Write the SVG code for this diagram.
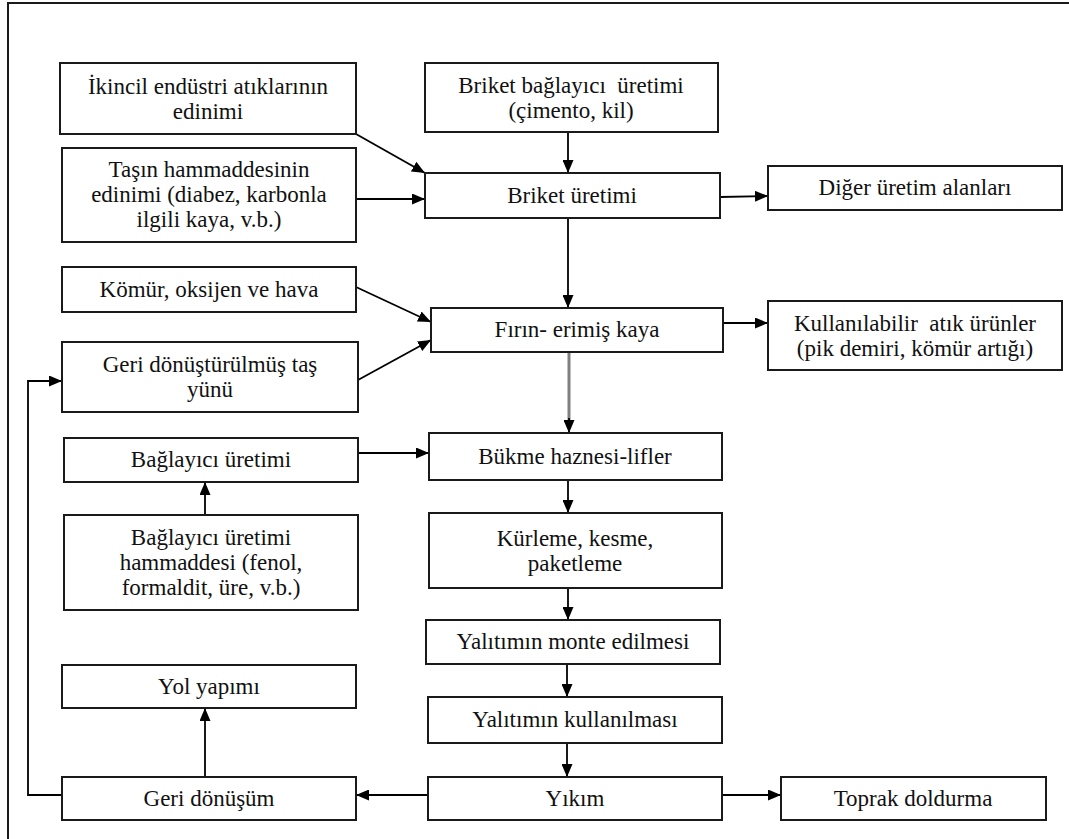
<svg xmlns="http://www.w3.org/2000/svg" width="1069" height="839" viewBox="0 0 1069 839">
  <defs>
    <marker id="arrow" markerUnits="userSpaceOnUse" markerWidth="13" markerHeight="11" refX="13" refY="5.5" orient="auto">
      <path d="M0,0 L13,5.5 L0,11 z" fill="#000"/>
    </marker>
    <style>
      .box { fill: #fff; stroke: #1a1a1a; stroke-width: 2; }
      .lbl { font-size: 23px; fill: #111; text-anchor: middle; }
      .pre { white-space: pre; }
      .conn { fill: none; stroke: #000; stroke-width: 1.8; }
      .conn-grey { fill: none; stroke: #808080; stroke-width: 3; }
    </style>
  </defs>

  <rect width="1069" height="839" fill="#fff"/>
  <!-- outer frame (runs off the right and bottom edges) -->
  <path d="M8,839 V3 H1069" fill="none" stroke="#1a1a1a" stroke-width="2"/>

  <g id="connectors">
    <line class="conn" x1="356" y1="134" x2="425" y2="173" marker-end="url(#arrow)"/>
    <line class="conn" x1="356" y1="199" x2="425" y2="199" marker-end="url(#arrow)"/>
    <line class="conn" x1="568" y1="132" x2="568" y2="173" marker-end="url(#arrow)"/>
    <line class="conn" x1="720" y1="197" x2="768" y2="196" marker-end="url(#arrow)"/>
    <line class="conn" x1="568" y1="218" x2="568" y2="308" marker-end="url(#arrow)"/>
    <line class="conn" x1="356" y1="287" x2="431" y2="322" marker-end="url(#arrow)"/>
    <line class="conn" x1="358" y1="380" x2="431" y2="340" marker-end="url(#arrow)"/>
    <line class="conn" x1="723" y1="323" x2="768" y2="323" marker-end="url(#arrow)"/>
    <line class="conn-grey" x1="569" y1="352" x2="569" y2="421"/>
    <line class="conn" x1="569" y1="418" x2="569" y2="433" marker-end="url(#arrow)"/>
    <line class="conn" x1="358" y1="453" x2="429" y2="453" marker-end="url(#arrow)"/>
    <line class="conn" x1="205" y1="515" x2="205" y2="482" marker-end="url(#arrow)"/>
    <line class="conn" x1="568" y1="480" x2="568" y2="513" marker-end="url(#arrow)"/>
    <line class="conn" x1="568" y1="588" x2="568" y2="620" marker-end="url(#arrow)"/>
    <line class="conn" x1="567" y1="664" x2="567" y2="697" marker-end="url(#arrow)"/>
    <line class="conn" x1="567" y1="743" x2="567" y2="777" marker-end="url(#arrow)"/>
    <line class="conn" x1="722" y1="795" x2="781" y2="795" marker-end="url(#arrow)"/>
    <line class="conn" x1="428" y1="795" x2="356" y2="795" marker-end="url(#arrow)"/>
    <line class="conn" x1="205" y1="777" x2="205" y2="708" marker-end="url(#arrow)"/>
    <polyline class="conn" points="62,795 28,795 28,381 62,381" marker-end="url(#arrow)"/>
  </g>

  <g font-family="'Liberation Serif', 'Times New Roman', Times, 'DejaVu Serif', serif">
  <g id="ikincil">
    <rect class="box" x="60" y="63" width="296" height="71"/>
    <text class="lbl" x="208" y="94">İkincil endüstri atıklarının</text>
    <text class="lbl" x="208" y="119">edinimi</text>
  </g>
  <g id="tasin-hammaddesi">
    <rect class="box" x="62" y="148" width="294" height="94"/>
    <text class="lbl" x="209" y="177">Taşın hammaddesinin</text>
    <text class="lbl" x="209" y="202">edinimi (diabez, karbonla</text>
    <text class="lbl" x="209" y="227">ilgili kaya, v.b.)</text>
  </g>
  <g id="briket-baglayici">
    <rect class="box" x="425" y="63" width="293" height="69"/>
    <text class="lbl pre" x="571" y="93">Briket bağlayıcı  üretimi</text>
    <text class="lbl" x="571" y="118">(çimento, kil)</text>
  </g>
  <g id="briket-uretimi">
    <rect class="box" x="425" y="173" width="295" height="45"/>
    <text class="lbl" x="572" y="203">Briket üretimi</text>
  </g>
  <g id="diger-uretim">
    <rect class="box" x="768" y="166" width="294" height="44"/>
    <text class="lbl" x="915" y="195">Diğer üretim alanları</text>
  </g>
  <g id="komur">
    <rect class="box" x="62" y="267" width="294" height="45"/>
    <text class="lbl" x="209" y="297">Kömür, oksijen ve hava</text>
  </g>
  <g id="geri-donusturulmus">
    <rect class="box" x="62" y="342" width="296" height="70"/>
    <text class="lbl" x="210" y="372">Geri dönüştürülmüş taş</text>
    <text class="lbl" x="210" y="397">yünü</text>
  </g>
  <g id="firin">
    <rect class="box" x="431" y="308" width="292" height="44"/>
    <text class="lbl" x="577" y="337">Fırın- erimiş kaya</text>
  </g>
  <g id="kullanilabilir-atik">
    <rect class="box" x="768" y="301" width="294" height="69"/>
    <text class="lbl pre" x="915" y="331">Kullanılabilir  atık ürünler</text>
    <text class="lbl" x="915" y="356">(pik demiri, kömür artığı)</text>
  </g>
  <g id="baglayici-uretimi">
    <rect class="box" x="64" y="438" width="294" height="44"/>
    <text class="lbl" x="211" y="467">Bağlayıcı üretimi</text>
  </g>
  <g id="baglayici-hammaddesi">
    <rect class="box" x="64" y="515" width="294" height="95"/>
    <text class="lbl" x="211" y="545">Bağlayıcı üretimi</text>
    <text class="lbl" x="211" y="570">hammaddesi (fenol,</text>
    <text class="lbl" x="211" y="595">formaldit, üre, v.b.)</text>
  </g>
  <g id="bukme">
    <rect class="box" x="429" y="433" width="293" height="47"/>
    <text class="lbl" x="575" y="464">Bükme haznesi-lifler</text>
  </g>
  <g id="kurleme">
    <rect class="box" x="429" y="513" width="293" height="75"/>
    <text class="lbl" x="575" y="546">Kürleme, kesme,</text>
    <text class="lbl" x="575" y="571">paketleme</text>
  </g>
  <g id="monte">
    <rect class="box" x="426" y="620" width="294" height="44"/>
    <text class="lbl" x="573" y="649">Yalıtımın monte edilmesi</text>
  </g>
  <g id="kullanilmasi">
    <rect class="box" x="428" y="697" width="294" height="46"/>
    <text class="lbl" x="575" y="727">Yalıtımın kullanılması</text>
  </g>
  <g id="yikim">
    <rect class="box" x="428" y="777" width="294" height="43"/>
    <text class="lbl" x="575" y="806">Yıkım</text>
  </g>
  <g id="toprak">
    <rect class="box" x="781" y="777" width="265" height="43"/>
    <text class="lbl" x="913" y="806">Toprak doldurma</text>
  </g>
  <g id="yol-yapimi">
    <rect class="box" x="62" y="665" width="294" height="43"/>
    <text class="lbl" x="209" y="694">Yol yapımı</text>
  </g>
  <g id="geri-donusum">
    <rect class="box" x="62" y="777" width="294" height="43"/>
    <text class="lbl" x="209" y="806">Geri dönüşüm</text>
  </g>
  </g>
</svg>
